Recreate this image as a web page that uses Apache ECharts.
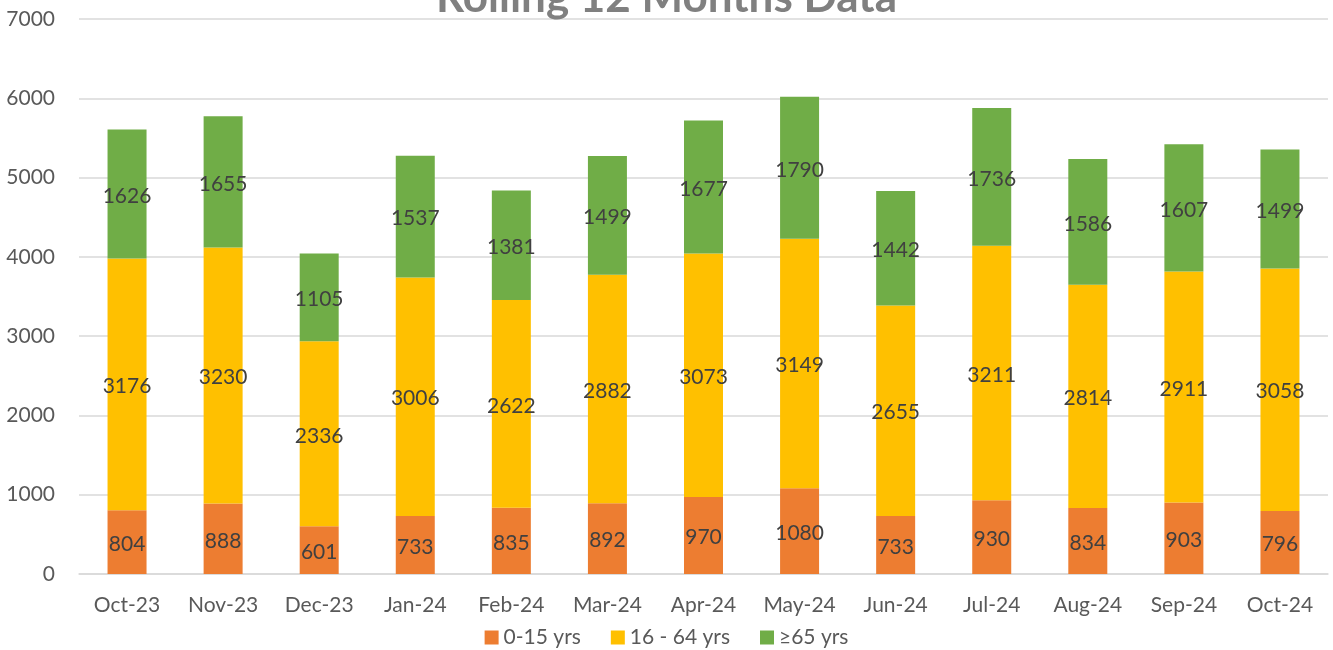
<!doctype html>
<html lang="en">
  <head>
    <meta charset="UTF-8" />
    <title>Rolling 12 Months Data</title>
    <style>
      html,
      body {
        width: 100%;
        height: 100%;
        margin: 0;
        padding: 0;
        background: #fff;
      }
      #Echart {
        width: 1333px;
        height: 650px;
      }
    </style>
  </head>
  <body>
    <div id="Echart"></div>
    <script src="https://cdn.jsdelivr.net/npm/echarts@6/dist/echarts.min.js"></script>
    <script>
      const months = ['Oct-23', 'Nov-23', 'Dec-23', 'Jan-24', 'Feb-24', 'Mar-24', 'Apr-24', 'May-24', 'Jun-24', 'Jul-24', 'Aug-24', 'Sep-24', 'Oct-24']
      const age0to15 = [804, 888, 601, 733, 835, 892, 970, 1080, 733, 930, 834, 903, 796]
      const age16to64 = [3176, 3230, 2336, 3006, 2622, 2882, 3073, 3149, 2655, 3211, 2814, 2911, 3058]
      const age65plus = [1626, 1655, 1105, 1537, 1381, 1499, 1677, 1790, 1442, 1736, 1586, 1607, 1499]

      const font = 'Lato, "Noto Sans", sans-serif'

      function makeSeries(name, data, color) {
        return {
          name: name,
          type: 'bar',
          stack: 'total',
          data: data,
          barWidth: 39,
          itemStyle: { color: color },
          label: {
            show: true,
            position: 'inside',
            offset: [0, 2],
            color: '#404040',
            fontSize: 21,
            fontFamily: font,
          },
        }
      }

      const chart = echarts.init(document.getElementById('Echart'))
      chart.setOption({
        animation: false,
        title: {
          text: 'Rolling 12 Months Data',
          left: 'center',
          top: -29,
          textStyle: {
            color: '#808080',
            fontSize: 44,
            fontWeight: 'bold',
            fontFamily: font,
          },
        },
        legend: {
          bottom: -3,
          left: 'center',
          itemWidth: 14,
          itemHeight: 14,
          itemGap: 30,
          icon: 'rect',
          textStyle: { color: '#595959', fontSize: 21, fontFamily: font },
          data: ['0-15 yrs', '16 - 64 yrs', '≥65 yrs'],
        },
        grid: {
          left: 79,
          right: 5,
          top: 19,
          bottom: 76,
        },
        xAxis: {
          type: 'category',
          data: months,
          axisTick: { show: false },
          axisLine: { lineStyle: { color: '#d9d9d9', width: 1.5 } },
          axisLabel: { color: '#595959', fontSize: 21, fontFamily: font, margin: 21 },
        },
        yAxis: {
          type: 'value',
          min: 0,
          max: 7000,
          interval: 1000,
          axisLine: { show: false },
          axisTick: { show: false },
          splitLine: { lineStyle: { color: '#d9d9d9', width: 1.5 } },
          axisLabel: {
            color: '#595959',
            fontSize: 21,
            fontFamily: font,
            margin: 24,
            formatter: (v) => String(v),
          },
        },
        series: [
          makeSeries('0-15 yrs', age0to15, '#ED7D31'),
          makeSeries('16 - 64 yrs', age16to64, '#FFC000'),
          makeSeries('≥65 yrs', age65plus, '#70AD47'),
        ],
      })
    </script>
  </body>
</html>
